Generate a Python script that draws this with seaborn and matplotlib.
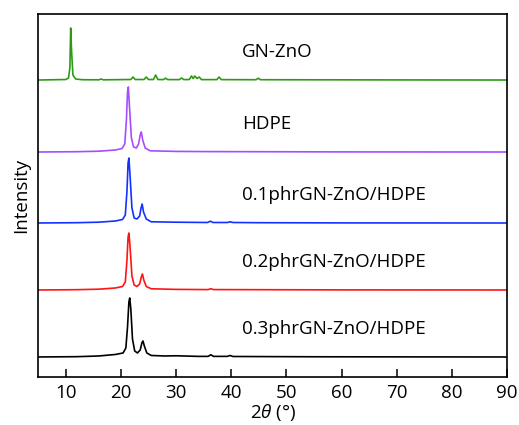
import pandas as pd
import numpy as np
import seaborn as sns
import matplotlib.pyplot as plt

sns.set_style('ticks')
plt.rcParams['font.family'] = ['Open Sans', 'DejaVu Sans']
plt.rcParams['mathtext.fontset'] = 'custom'
plt.rcParams['mathtext.it'] = 'Open Sans:italic'
plt.rcParams['text.color'] = 'black'
plt.rcParams['axes.labelcolor'] = 'black'
plt.rcParams['xtick.color'] = 'black'
plt.rcParams['axes.edgecolor'] = 'black'

# campioni dal basso verso l'alto
campioni = ['0.3phrGN-ZnO/HDPE', '0.2phrGN-ZnO/HDPE', '0.1phrGN-ZnO/HDPE', 'HDPE', 'GN-ZnO']
colori = ['#000000', '#ff1414', '#1432ff', '#a64dff', '#2e9a14']
offset = [20, 87, 154, 225, 297]

# punti (2theta, intensita relativa alla linea di base)
x_03 = [5, 12, 16, 19, 20.4, 20.9, 21.2, 21.45, 21.6, 21.8, 22.1, 22.5, 23.0, 23.5, 23.8, 24.0, 24.25, 24.7, 25.5, 28, 30, 34, 35.8, 36.3, 36.8, 39.3, 39.8, 40.3, 45, 55, 70, 90]
y_03 = [0, 0.3, 1, 2.5, 4, 9, 30, 55, 59, 48, 18, 6, 4, 7, 14, 16, 11, 4, 1.5, 1, 1.2, 0.6, 0.6, 2.2, 0.6, 0.6, 1.5, 0.5, 0.4, 0.2, 0.1, 0]
x_02 = [5, 12, 16, 19, 20.3, 20.8, 21.1, 21.3, 21.45, 21.65, 22.0, 22.4, 22.9, 23.4, 23.7, 23.9, 24.15, 24.6, 25.5, 30, 35.8, 36.3, 36.8, 45, 60, 90]
y_02 = [0, 0.3, 0.8, 2, 3.5, 8, 30, 53, 57, 44, 14, 5, 3.5, 6, 13, 16, 10, 3.5, 1.2, 0.6, 0.4, 1.2, 0.4, 0.3, 0.1, 0]
x_01 = [5, 12, 16, 19, 20.3, 20.8, 21.1, 21.3, 21.45, 21.65, 22.0, 22.4, 22.9, 23.4, 23.65, 23.85, 24.1, 24.6, 25.5, 30, 35.7, 36.2, 36.7, 39.3, 39.8, 40.3, 45, 60, 90]
y_01 = [0, 0.3, 0.8, 2, 3.5, 8, 32, 60, 65, 48, 15, 5, 4, 7, 15, 19, 11, 4, 1.2, 0.8, 0.5, 1.8, 0.5, 0.5, 1.2, 0.5, 0.3, 0.1, 0]
x_hdpe = [5, 12, 16, 19, 20.2, 20.7, 21.0, 21.2, 21.35, 21.55, 21.9, 22.3, 22.8, 23.2, 23.5, 23.7, 23.95, 24.4, 25.3, 30, 36, 45, 60, 90]
y_hdpe = [0, 0.3, 0.8, 2, 3.5, 8, 32, 60, 65, 46, 14, 5, 4, 8, 17, 20, 12, 4, 1.2, 0.6, 0.4, 0.3, 0.1, 0]
x_gn = [5, 10.0, 10.5, 10.75, 10.9, 11.05, 11.3, 11.8, 13, 16.0, 16.4, 16.8, 21.8, 22.2, 22.6, 24.2, 24.6, 25.0, 25.9, 26.3, 26.7, 27.7, 28.1, 28.5, 30.6, 31.0, 31.4, 32.4, 32.8, 33.1, 33.4, 33.8, 34.2, 34.6, 37.4, 37.8, 38.2, 44.5, 44.9, 45.3, 58, 70, 90]
y_gn = [0, 0.5, 2, 12, 52, 30, 5, 1, 0.3, 0.2, 1, 0.2, 0.5, 3, 0.5, 0.5, 3, 0.5, 0.5, 5, 0.5, 0.4, 1.8, 0.4, 0.4, 2, 0.4, 0.5, 4, 1.5, 4, 1.5, 3, 0.4, 0.4, 3, 0.4, 0.3, 1.8, 0.3, 0.2, 0.1, 0]

serie_x = [x_03, x_02, x_01, x_hdpe, x_gn]
serie_y = [y_03, y_02, y_01, y_hdpe, y_gn]

fig = plt.figure(figsize=(5.19, 4.25), dpi=100)
ax = fig.add_axes([0.0735, 0.113, 0.9035, 0.854])

for nome, xs, ys, c, off in zip(campioni, serie_x, serie_y, colori, offset):
    df = pd.DataFrame({'x': xs, 'y': np.array(ys) + off})
    sns.lineplot(data=df, x='x', y='y', color=c, linewidth=1.2, ax=ax)
    ax.text(42, off + 28, nome, fontsize=13.5, va='center', ha='left')

ax.set_xlim(5, 90)
ax.set_ylim(0, 363)
ax.set_xticks([10, 20, 30, 40, 50, 60, 70, 80, 90])
ax.set_yticks([])
ax.tick_params(axis='x', labelsize=13.5, direction='in', length=6, width=1.1, pad=5)
ax.set_xlabel(r'2$\it{\theta}$ (°)', fontsize=13.5, labelpad=0)
ax.set_ylabel('Intensity', fontsize=13.5, labelpad=6)
for s in ax.spines.values():
    s.set_linewidth(1.2)

plt.savefig('out.png', dpi=100)
